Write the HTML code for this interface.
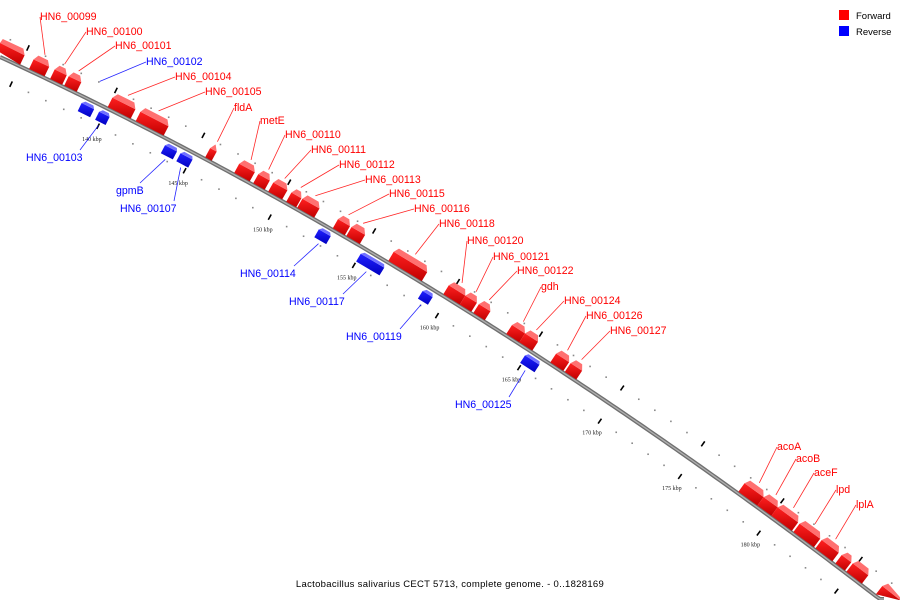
<!DOCTYPE html>
<html><head><meta charset="utf-8"><style>
html,body{margin:0;padding:0;background:#fff;overflow:hidden;width:900px;height:600px;}
svg{display:block;font-family:"Liberation Sans","DejaVu Sans",sans-serif;}
</style></head><body>
<svg id="map" width="900" height="600" viewBox="0 0 900 600" xmlns="http://www.w3.org/2000/svg" overflow="hidden">
<defs>
<clipPath id="frame"><rect x="0" y="0" width="900" height="600"/></clipPath>
<linearGradient id="gr" x1="0" y1="0" x2="0" y2="1"><stop offset="0" stop-color="#ff2020"/><stop offset="1" stop-color="#c00000"/></linearGradient>
<linearGradient id="gb" x1="0" y1="0" x2="0" y2="1"><stop offset="0" stop-color="#2020ff"/><stop offset="1" stop-color="#0000c0"/></linearGradient>
</defs>
<g clip-path="url(#frame)">
<g id="ticks"></g>
<g id="backbone"></g>
<g id="genes"></g>
<g id="labels"></g>
</g>
<g>
<rect x="839" y="10" width="10" height="10" fill="#ff0000"/>
<text x="856" y="19" font-size="9.5" fill="#000">Forward</text>
<rect x="839" y="26" width="10" height="10" fill="#0000ff"/>
<text x="856" y="35" font-size="9.5" fill="#000">Reverse</text>
</g>
<text x="450" y="587" font-size="9.5" text-anchor="middle" letter-spacing="0.3" fill="#000">Lactobacillus salivarius CECT 5713, complete genome. - 0..1828169</text>
</svg>
<script>
// ---- data (kbp) ----
const geneStart = [133.5,135.5,136.7,137.5,140.0,141.6,145.6,147.3,148.4,149.3,150.35,151.0,153.1,153.9,156.4,159.7,160.7,161.5,163.5,164.3,166.2,167.1,177.9,179.1,180.0,181.4,182.8,184.1,184.8,186.7,
                   138.7,139.7,143.5,144.4,152.5,155.0,158.7,164.9];
const geneEnd   = [135.0,136.4,137.4,138.2,141.3,143.2,146.0,148.2,149.1,150.1,150.95,152.0,153.8,154.7,158.4,160.7,161.4,162.2,164.3,165.1,167.0,167.8,179.1,180.0,181.3,182.7,183.9,184.7,185.8,188.2,
                   139.4,140.3,144.2,145.1,153.2,156.4,159.3,165.8];
const geneStrand= [1,1,1,1,1,1,1,1,1,1,1,1,1,1,1,1,1,1,1,1,1,1,1,1,1,1,1,1,1,1,
                   -1,-1,-1,-1,-1,-1,-1,-1];
const geneLabel = ["","HN6_00099","HN6_00100","HN6_00101","HN6_00104","HN6_00105","fldA","metE","HN6_00110","HN6_00111","HN6_00112","HN6_00113","HN6_00115","HN6_00116","HN6_00118","HN6_00120","HN6_00121","HN6_00122","gdh","HN6_00124","HN6_00126","HN6_00127","acoA","acoB","aceF","lpd","lplA","","","",
                   "HN6_00102","HN6_00103","gpmB","HN6_00107","HN6_00114","HN6_00117","HN6_00119","HN6_00125"];
const tickStart = 128, tickEnd = 192;
// ---- layout: label anchor points (left x, baseline y) ----
const labelPosX = [0,40,86,115,175,205,234,260,285,311,339,365,389,414,439,467,493,517,541,564,586,610,777,796,814,836,856,0,0,0,
                   146,26,116,120,240,289,346,455];
const labelPosY = [0,20,35,49,80,95,111,124,138,153,168,183,197,212,227,244,260,274,290,304,319,334,450,462,476,493,508,0,0,0,
                   65,161,194,212,277,305,340,408];

// ---- geometry ----
function cy(x){return 57+0.461*x+1.765e-4*x*x;}
function cs(x){return 0.461+3.53e-4*x;}
const AX=[],AL=[];let acc=0;
for(let x=-80;x<=1000;x+=0.5){ if(AX.length){const px=AX[AX.length-1];acc+=Math.hypot(0.5,cy(x)-cy(px));} AX.push(x);AL.push(acc);}
function arcAt(x){const i=Math.round((x+80)/0.5);return AL[Math.max(0,Math.min(AL.length-1,i))];}
const ARC140=arcAt(107.6), PXKBP=19.5;
function xForKbp(k){const a=ARC140+(k-140)*PXKBP;let lo=0,hi=AL.length-1;while(hi-lo>1){const m=(lo+hi)>>1;if(AL[m]<a)lo=m;else hi=m;}return AX[lo];}
function P(k,off){const x=xForKbp(k),y=cy(x),s=cs(x),n=Math.hypot(1,s);return [x+off*s/n,y-off/n];}
function clampP(p){return [Math.max(0,Math.min(900,p[0])),Math.max(0,Math.min(600,p[1]))];}
function pts(a){return a.map(p=>{p=clampP(p);return p[0].toFixed(1)+','+p[1].toFixed(1);}).join(' ');}
const NS='http://www.w3.org/2000/svg';
function mk(tag,parent,attrs){const e=document.createElementNS(NS,tag);for(const k in attrs)e.setAttribute(k,attrs[k]);parent.appendChild(e);return e;}
function inFrame(p){return p[0]>=0&&p[0]<=900&&p[1]>=0&&p[1]<=597;}

// ---- ruler ----
const tg=document.getElementById('ticks');
for(let k=tickStart;k<=tickEnd;k++){
  for(const side of [1,-1]){
    if(k%5===0){
      const a=P(k,side*17),b=P(k,side*23);
      if(!inFrame(a)||!inFrame(b)) continue;
      const l=mk('line',tg,{x1:a[0],y1:a[1],x2:b[0],y2:b[1],stroke:'#000','stroke-width':1.6});
      
      
    } else {
      const c=P(k,side*20);
      if(!inFrame(c)) continue;
      const r=mk('rect',tg,{x:c[0]-0.8,y:c[1]-0.8,width:1.6,height:1.6,fill:'#888'});
      
      
    }
  }
  if(k%5===0){
    const c=P(k,-34);
    if(c[0]>25 && c[1]<575){
      const t=mk('text',tg,{x:c[0],y:c[1]+2,'font-size':6,'text-anchor':'middle',fill:'#222','font-family':'"Liberation Serif",serif'});
      t.textContent=k+' kbp';
      
      
    }
  }
}
// ---- backbone ----
const bb=document.getElementById('backbone');let d='';
for(let x=0;x<=884;x+=4){d+=(x===0?'M':'L')+x+','+Math.min(599,cy(x)).toFixed(2);}
const b1=mk('path',bb,{d:d,fill:'none',stroke:'#707070','stroke-width':4});


const b2=mk('path',bb,{d:d,fill:'none',stroke:'#b0b0b0','stroke-width':1.3});



// ---- genes ----
const gg=document.getElementById('genes'),lg=document.getElementById('labels');
for(let i=0;i<geneStart.length;i++){
  const a=geneStart[i],b=geneEnd[i],f=geneStrand[i]>0;
  const g=mk('g',gg,{});
  
  
  if(f){
    mk('polygon',g,{points:pts([P(a,1.5),P(b,1.5),P(b,12),P(a,12)]),fill:'url(#gr)'});
    mk('polygon',g,{points:pts([P(a,12),P(b,12),P(b-0.2,17.5),P(a+0.15,17.5)]),fill:'#ff7070'});
  } else {
    mk('polygon',g,{points:pts([P(a,-6.5),P(b,-6.5),P(b,-15.5),P(a,-15.5)]),fill:'url(#gb)'});
    mk('polygon',g,{points:pts([P(a+0.15,-3.5),P(b-0.1,-3.5),P(b,-6.5),P(a,-6.5)]),fill:'#7070ff'});
  }
  if(geneLabel[i]){
    const col=f?'#ff0000':'#0000ff';
    const m=(a+b)/2;
    const lx=labelPosX[i], ly=labelPosY[i];
    const above = ly < cy(lx);
    const e = above ? P(m,21) : P(m,-19);
    const w = geneLabel[i].length*6.0;
    const ex = above ? lx : lx+w, ey = above ? ly-3 : ly-11;
    const ln=mk('line',lg,{x1:e[0],y1:e[1],x2:ex,y2:ey,stroke:col,'stroke-width':0.8,opacity:0.85});
    
    
    const t=mk('text',lg,{x:lx,y:ly,'font-size':10.6,fill:col});
    t.textContent=geneLabel[i];
    
    
  }
}
</script>
</body></html>
